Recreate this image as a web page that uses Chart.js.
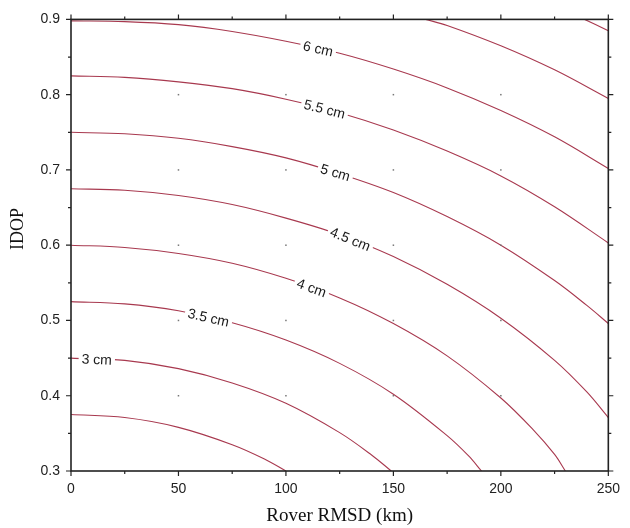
<!DOCTYPE html>
<html>
<head>
<meta charset="utf-8">
<script src="https://cdn.jsdelivr.net/npm/chart.js@4.4.0/dist/chart.umd.min.js"></script>
<style>
  html, body { margin: 0; padding: 0; background: #fff; }
  #wrap { width: 630px; height: 528px; position: relative; }
</style>
</head>
<body>
<div id="wrap"><canvas id="contourChart"></canvas></div>
<script>
// contour lines (x = rover RMSD in km, y = IDOP)
const levelNames = ['2.5 cm', '3 cm', '3.5 cm', '4 cm', '4.5 cm', '5 cm', '5.5 cm', '6 cm', '6.5 cm', '7 cm'];

const c25x = [0, 25, 50, 75, 90, 100];
const c25y = [0.375, 0.371, 0.358, 0.335, 0.316, 0.300];
const c30x = [0, 25, 50, 75, 100, 125, 140, 149];
const c30y = [0.450, 0.447, 0.436, 0.417, 0.390, 0.351, 0.321, 0.300];
const c35x = [0, 25, 50, 75, 100, 125, 150, 175, 185, 191];
const c35y = [0.525, 0.522, 0.513, 0.497, 0.474, 0.443, 0.402, 0.347, 0.320, 0.300];
const c40x = [0, 25, 50, 75, 100, 125, 150, 175, 200, 215, 225, 230];
const c40y = [0.600, 0.597, 0.589, 0.576, 0.556, 0.530, 0.496, 0.453, 0.397, 0.355, 0.322, 0.300];
const c45x = [0, 25, 50, 75, 100, 125, 150, 175, 200, 225, 240, 250];
const c45y = [0.675, 0.673, 0.666, 0.654, 0.636, 0.614, 0.585, 0.548, 0.503, 0.447, 0.405, 0.371];
const c50x = [0, 25, 50, 75, 100, 125, 150, 175, 200, 225, 240, 250];
const c50y = [0.750, 0.748, 0.742, 0.731, 0.716, 0.695, 0.670, 0.638, 0.600, 0.553, 0.520, 0.496];
const c55x = [0, 25, 50, 75, 100, 125, 150, 175, 200, 225, 250];
const c55y = [0.825, 0.823, 0.817, 0.808, 0.794, 0.776, 0.753, 0.725, 0.692, 0.651, 0.603];
const c60x = [0, 25, 50, 75, 100, 125, 150, 175, 200, 225, 250];
const c60y = [0.898, 0.897, 0.893, 0.884, 0.871, 0.855, 0.834, 0.809, 0.779, 0.744, 0.702];
const c65x = [165, 175, 200, 225, 250];
const c65y = [0.900, 0.892, 0.865, 0.833, 0.795];
const c70x = [239, 250];
const c70y = [0.900, 0.885];

const contourX = [c25x, c30x, c35x, c40x, c45x, c50x, c55x, c60x, c65x, c70x];
const contourY = [c25y, c30y, c35y, c40y, c45y, c50y, c55y, c60y, c65y, c70y];

// inline labels: which contour and where along x
const labelLevels = [1, 2, 3, 4, 5, 6, 7];
const labelX = [12, 64, 112, 130, 123, 118, 115];

const xTicks = [0, 50, 100, 150, 200, 250];
const yTicks = [0.3, 0.4, 0.5, 0.6, 0.7, 0.8, 0.9];
const xMinor = [25, 75, 125, 175, 225];
const yMinor = [0.35, 0.45, 0.55, 0.65, 0.75, 0.85];
const dotX = [50, 100, 150, 200];
const dotY = [0.4, 0.5, 0.6, 0.7, 0.8];

const lineColor = '#a8394f';
const sansFont = '"Liberation Sans", Arial, Helvetica, sans-serif';
const serifFont = '"Liberation Serif", "Times New Roman", serif';

const datasets = contourX.map((xs, i) => ({
    label: levelNames[i],
    data: xs.map((x, j) => ({ x: x, y: contourY[i][j] })),
    showLine: true,
    borderColor: lineColor,
    borderWidth: 1.1,
    pointRadius: 0,
    tension: 0.35,
    fill: false
}));

// frame, ticks on all sides, grid dots, contour labels, y title
const framePlugin = {
    id: 'frame',
    afterDatasetsDraw(chart) {
        const ctx = chart.ctx;
        const xs = chart.scales.x, ys = chart.scales.y;
        const a = chart.chartArea;
        ctx.save();

        // grid dots
        ctx.fillStyle = '#777';
        dotX.forEach(x => dotY.forEach(y => {
            ctx.fillRect(xs.getPixelForValue(x) - 0.75, ys.getPixelForValue(y) - 0.75, 1.5, 1.5);
        }));

        // contour labels
        ctx.font = '14px ' + sansFont;
        ctx.textAlign = 'center';
        ctx.textBaseline = 'middle';
        labelLevels.forEach((lv, k) => {
            const pts = chart.getDatasetMeta(lv).data;
            const xv = xs.getPixelForValue(labelX[k]);
            let i = 0;
            while (i < pts.length - 2 && pts[i + 1].x < xv) i++;
            const p0 = pts[i], p1 = pts[i + 1];
            const t = (xv - p0.x) / (p1.x - p0.x);
            const yv = p0.y + t * (p1.y - p0.y);
            const ang = Math.atan2(p1.y - p0.y, p1.x - p0.x);
            const txt = levelNames[lv];
            const w = ctx.measureText(txt).width;
            ctx.save();
            ctx.translate(xv, yv);
            ctx.rotate(ang);
            ctx.fillStyle = '#fff';
            ctx.fillRect(-w / 2 - 3, -6, w + 6, 12);
            ctx.fillStyle = '#1a1a1a';
            ctx.fillText(txt, 0, 1);
            ctx.restore();
        });

        // frame
        ctx.strokeStyle = '#222';
        ctx.lineWidth = 1.6;
        ctx.strokeRect(a.left, a.top, a.right - a.left, a.bottom - a.top);

        // ticks, outward on all four sides
        ctx.lineWidth = 1.2;
        ctx.beginPath();
        const tickX = (vals, len) => vals.forEach(v => {
            const px = xs.getPixelForValue(v);
            ctx.moveTo(px, a.bottom); ctx.lineTo(px, a.bottom + len);
            ctx.moveTo(px, a.top); ctx.lineTo(px, a.top - len);
        });
        const tickY = (vals, len) => vals.forEach(v => {
            const py = ys.getPixelForValue(v);
            ctx.moveTo(a.left, py); ctx.lineTo(a.left - len, py);
            ctx.moveTo(a.right, py); ctx.lineTo(a.right + len, py);
        });
        tickX(xTicks, 5); tickX(xMinor, 3);
        tickY(yTicks, 5); tickY(yMinor, 3);
        ctx.stroke();

        // y axis title
        ctx.save();
        ctx.translate(18, 229);
        ctx.rotate(-Math.PI / 2);
        ctx.font = '18px ' + serifFont;
        ctx.fillStyle = '#111';
        ctx.textAlign = 'center';
        ctx.textBaseline = 'middle';
        ctx.fillText('IDOP', 0, 0);
        ctx.restore();

        ctx.restore();
    }
};

document.addEventListener('DOMContentLoaded', function() {
    const ctx = document.getElementById('contourChart').getContext('2d');

    new Chart(ctx, {
        type: 'scatter',
        data: { datasets: datasets },
        options: {
            responsive: true,
            maintainAspectRatio: false,
            animation: false,
            layout: { padding: { top: 16, right: 13, left: 0, bottom: 0 } },
            scales: {
                x: {
                    type: 'linear',
                    min: 0,
                    max: 250,
                    afterFit: s => { s.height = 57; },
                    afterBuildTicks: s => { s.ticks = xTicks.map(v => ({ value: v })); },
                    grid: { display: false, drawTicks: false },
                    border: { display: false },
                    ticks: {
                        padding: 10,
                        color: '#222',
                        font: { family: sansFont, size: 14 }
                    },
                    title: {
                        display: true,
                        text: 'Rover RMSD (km)',
                        color: '#111',
                        font: { family: serifFont, size: 19 },
                        padding: { top: 0, bottom: 1 }
                    }
                },
                y: {
                    type: 'linear',
                    min: 0.3,
                    max: 0.9,
                    afterFit: s => { s.width = 71; },
                    afterBuildTicks: s => { s.ticks = yTicks.map(v => ({ value: v })); },
                    grid: { display: false, drawTicks: false },
                    border: { display: false },
                    ticks: {
                        padding: 11,
                        color: '#222',
                        font: { family: sansFont, size: 14 },
                        callback: v => v.toFixed(1)
                    }
                }
            },
            plugins: {
                legend: { display: false },
                tooltip: { enabled: false }
            }
        },
        plugins: [framePlugin]
    });
});
</script>
</body>
</html>
